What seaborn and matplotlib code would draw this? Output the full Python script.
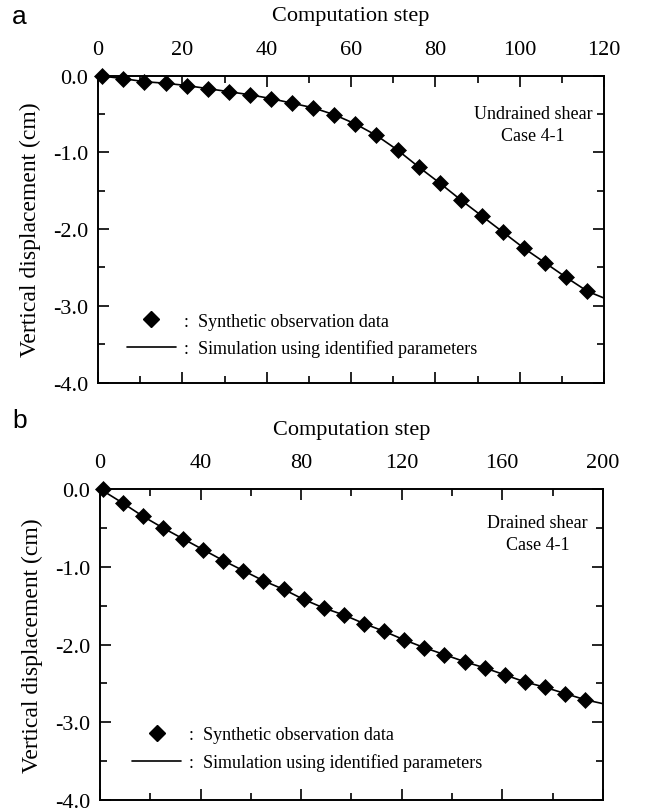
import matplotlib
matplotlib.use("Agg")
import matplotlib.pyplot as plt
from matplotlib.ticker import MultipleLocator, FormatStrFormatter
from matplotlib.lines import Line2D
import seaborn as sns

# ---- data: panel a (undrained shear) ----
obs_a_step = [1, 6, 11, 16, 21, 26, 31, 36, 41, 46, 51, 56, 61, 66, 71, 76,
              81, 86, 91, 96, 101, 106, 111, 116]
obs_a_disp = [0.0, -0.04, -0.08, -0.10, -0.13, -0.17, -0.21, -0.25, -0.30, -0.36,
              -0.42, -0.51, -0.63, -0.78, -0.97, -1.19, -1.40, -1.62, -1.83, -2.04,
              -2.25, -2.44, -2.63, -2.81]
sim_a_step = [0, 6, 11, 16, 21, 26, 31, 36, 41, 46, 51, 56, 61, 66, 71, 76,
              81, 86, 91, 96, 101, 106, 111, 116, 120]
sim_a_disp = [0.0, -0.04, -0.08, -0.10, -0.13, -0.17, -0.21, -0.25, -0.30, -0.36,
              -0.42, -0.51, -0.63, -0.78, -0.97, -1.19, -1.40, -1.62, -1.83, -2.04,
              -2.25, -2.44, -2.63, -2.81, -2.90]

# ---- data: panel b (drained shear) ----
obs_b_step = [1, 9, 17, 25, 33, 41, 49, 57, 65, 73, 81, 89, 97, 105, 113, 121,
              129, 137, 145, 153, 161, 169, 177, 185, 193]
obs_b_disp = [0.0, -0.18, -0.35, -0.50, -0.64, -0.78, -0.92, -1.05, -1.18, -1.29,
              -1.42, -1.53, -1.62, -1.73, -1.83, -1.94, -2.04, -2.13, -2.22, -2.30,
              -2.39, -2.48, -2.55, -2.63, -2.71]
sim_b_step = [0, 9, 17, 25, 33, 41, 49, 57, 65, 73, 81, 89, 97, 105, 113, 121,
              129, 137, 145, 153, 161, 169, 177, 185, 193, 200]
sim_b_disp = [0.0, -0.18, -0.35, -0.50, -0.64, -0.78, -0.92, -1.05, -1.18, -1.29,
              -1.42, -1.53, -1.62, -1.73, -1.83, -1.94, -2.04, -2.13, -2.22, -2.30,
              -2.39, -2.48, -2.55, -2.63, -2.71, -2.76]

x_label = "Computation step"
y_label = "Vertical displacement (cm)"
obs_label = ":  Synthetic observation data"
sim_label = ":  Simulation using identified parameters"
note_a = "Undrained shear\nCase 4-1"
note_b = "Drained shear\nCase 4-1"

sns.set_style("ticks")
plt.rcParams["font.family"] = ["Liberation Serif", "DejaVu Serif"]
plt.rcParams["axes.unicode_minus"] = False
for k in ["text.color", "axes.labelcolor", "xtick.color", "ytick.color",
          "axes.edgecolor"]:
    plt.rcParams[k] = "black"

fig = plt.figure(figsize=(6.72, 8.12), dpi=100)
ax_a = fig.add_axes([0.146, 0.5277, 0.753, 0.378])
ax_b = fig.add_axes([0.149, 0.0135, 0.748, 0.383])


def draw(ax, obs_x, obs_y, sim_x, sim_y, xmax, xmajor, note, note_xy, leg_xy):
    sns.lineplot(x=sim_x, y=sim_y, ax=ax, color="black", linewidth=1.2,
                 sort=True, estimator=None)
    sns.scatterplot(x=obs_x, y=obs_y, ax=ax, marker="D", s=66, color="black",
                    edgecolor="black", linewidth=0.5, zorder=3, clip_on=False)
    ax.set_xlim(0, xmax)
    ax.set_ylim(-4.0, 0.0)
    ax.xaxis.set_major_locator(MultipleLocator(xmajor))
    ax.xaxis.set_minor_locator(MultipleLocator(xmajor / 2))
    ax.yaxis.set_major_locator(MultipleLocator(1.0))
    ax.yaxis.set_minor_locator(MultipleLocator(0.5))
    ax.yaxis.set_major_formatter(FormatStrFormatter("%.1f"))
    ax.xaxis.set_label_position("top")
    ax.tick_params(which="both", direction="in", top=True, bottom=True,
                   left=True, right=True, labeltop=True, labelbottom=False,
                   labelleft=True, labelright=False, width=1.2,
                   labelsize=16)
    ax.tick_params(which="major", length=8)
    ax.tick_params(which="minor", length=5)
    ax.tick_params(axis="x", which="major", pad=12)
    ax.tick_params(axis="y", which="major", pad=7)
    ax.set_xlabel(x_label, fontsize=16, labelpad=14)
    ax.set_ylabel(y_label, fontsize=17, labelpad=9)
    for sp in ax.spines.values():
        sp.set_visible(True)
        sp.set_linewidth(1.4)
    ax.text(note_xy[0], note_xy[1], note, transform=ax.transAxes, ha="center",
            va="top", fontsize=13, linespacing=1.4)
    handles = [Line2D([], [], marker="D", color="black", linestyle="none",
                      markersize=8.5),
               Line2D([], [], color="black", linewidth=1.2)]
    ax.legend(handles, [obs_label, sim_label], loc="lower left",
              bbox_to_anchor=leg_xy, frameon=False, fontsize=13,
              handlelength=2.7, handletextpad=0.45, labelspacing=0.55,
              borderaxespad=0)


draw(ax_a, obs_a_step, obs_a_disp, sim_a_step, sim_a_disp, 120, 20, note_a,
     (0.86, 0.905), (0.043, 0.058))
draw(ax_b, obs_b_step, obs_b_disp, sim_b_step, sim_b_disp, 200, 40, note_b,
     (0.87, 0.92), (0.050, 0.07))

fig.text(0.018, 0.979, "a", fontsize=19, ha="left", va="center",
         family=["Liberation Sans", "DejaVu Sans"])
fig.text(0.018, 0.482, "b", fontsize=19, ha="left", va="center",
         family=["Liberation Sans", "DejaVu Sans"])

fig.savefig("out.png", dpi=100)
